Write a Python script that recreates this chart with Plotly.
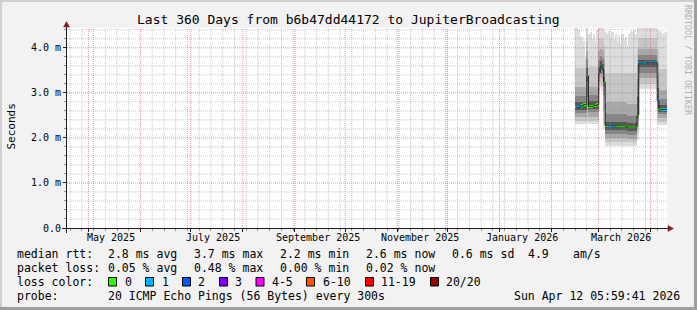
import plotly.graph_objects as go
import pandas as pd

# ---------------- data (values in milliseconds) ----------------
FIRST_STEP = "2026-02-15 12:00"   # centre of the first 1-day consolidated step

median_ms = [2.68, 2.68, 2.68, 2.70, 2.72, 2.74, 2.74, 3.38, 2.70, 2.70,
             2.70, 2.71, 2.72, 2.74, 3.44, 3.60, 3.55, 3.24, 2.27, 2.27,
             2.27, 2.27, 2.27, 2.27, 2.27, 2.27, 2.27, 2.27, 2.27, 2.27,
             2.26, 2.24, 2.24, 2.24, 2.24, 2.24, 2.24, 2.51, 3.66, 3.66,
             3.66, 3.66, 3.66, 3.68, 3.68, 3.68, 3.68, 3.68, 3.68, 2.83,
             2.64, 2.64, 2.63, 2.63, 2.63]

loss_pings = [1, 1, 1, 1, 0, 0, 0, 0, 0, 0,
              0, 0, 0, 0, 1, 1, 1, 0, 0, 0,
              1, 1, 1, 1, 1, 0, 0, 0, 0, 0,
              0, 0, 0, 0, 0, 0, 0, 0, 1, 1,
              1, 1, 1, 1, 1, 1, 1, 1, 1, 1,
              0, 0, 1, 1, 1]

# smoke: consolidated sorted-ping levels, outermost (1) to innermost (5)
smoke_lo1 = [2.31, 2.31, 2.31, 2.31, 2.31, 2.31, 2.31, 2.35, 2.31, 2.31,
             2.31, 2.31, 2.31, 2.31, 2.60, 3.10, 3.05, 2.20, 1.83, 1.83,
             1.83, 1.83, 1.83, 1.83, 1.83, 1.83, 1.83, 1.83, 1.83, 1.83,
             1.83, 1.82, 1.82, 1.82, 1.82, 1.82, 1.82, 1.95, 3.08, 3.08,
             3.08, 3.08, 3.08, 3.08, 3.08, 3.08, 3.08, 3.08, 3.08, 2.30,
             2.29, 2.29, 2.29, 2.29, 2.29]
smoke_lo2 = [2.37, 2.37, 2.37, 2.37, 2.37, 2.37, 2.37, 2.45, 2.37, 2.37,
             2.37, 2.37, 2.37, 2.37, 2.75, 3.20, 3.15, 2.30, 1.91, 1.91,
             1.91, 1.91, 1.91, 1.91, 1.91, 1.91, 1.91, 1.91, 1.91, 1.91,
             1.91, 1.90, 1.90, 1.90, 1.90, 1.90, 1.90, 2.10, 3.20, 3.20,
             3.20, 3.20, 3.20, 3.20, 3.20, 3.20, 3.20, 3.20, 3.20, 2.40,
             2.36, 2.36, 2.36, 2.36, 2.36]
smoke_lo3 = [2.46, 2.46, 2.46, 2.46, 2.46, 2.46, 2.46, 2.62, 2.46, 2.46,
             2.46, 2.46, 2.46, 2.46, 3.05, 3.35, 3.30, 2.60, 2.00, 2.00,
             2.00, 2.00, 2.00, 2.00, 2.00, 2.00, 2.00, 2.00, 2.00, 2.00,
             2.00, 1.98, 1.98, 1.98, 1.98, 1.98, 1.98, 2.30, 3.32, 3.32,
             3.32, 3.32, 3.32, 3.32, 3.32, 3.32, 3.32, 3.32, 3.32, 2.55,
             2.44, 2.44, 2.44, 2.44, 2.44]
smoke_lo4 = [2.56, 2.56, 2.56, 2.56, 2.56, 2.56, 2.56, 2.90, 2.57, 2.57,
             2.57, 2.57, 2.57, 2.57, 3.25, 3.45, 3.42, 2.95, 2.09, 2.09,
             2.09, 2.09, 2.09, 2.09, 2.09, 2.09, 2.09, 2.09, 2.09, 2.09,
             2.09, 2.07, 2.07, 2.07, 2.07, 2.07, 2.07, 2.42, 3.44, 3.44,
             3.44, 3.44, 3.44, 3.44, 3.44, 3.44, 3.44, 3.44, 3.44, 2.68,
             2.52, 2.52, 2.52, 2.52, 2.52]
smoke_lo5 = [2.63, 2.63, 2.63, 2.63, 2.63, 2.63, 2.63, 3.25, 2.65, 2.65,
             2.65, 2.65, 2.65, 2.65, 3.38, 3.54, 3.50, 3.15, 2.18, 2.18,
             2.18, 2.18, 2.18, 2.18, 2.18, 2.18, 2.18, 2.18, 2.18, 2.18,
             2.18, 2.16, 2.16, 2.16, 2.16, 2.16, 2.16, 2.48, 3.57, 3.57,
             3.57, 3.57, 3.57, 3.57, 3.57, 3.57, 3.57, 3.57, 3.57, 2.77,
             2.58, 2.58, 2.58, 2.58, 2.58]
smoke_hi5 = [2.80, 2.80, 2.80, 2.80, 2.80, 2.80, 2.80, 3.55, 2.82, 2.82,
             2.82, 2.82, 2.82, 2.82, 3.55, 3.70, 3.65, 3.35, 2.36, 2.36,
             2.36, 2.36, 2.36, 2.36, 2.36, 2.36, 2.36, 2.36, 2.36, 2.36,
             2.36, 2.33, 2.33, 2.33, 2.33, 2.33, 2.33, 2.90, 3.74, 3.74,
             3.74, 3.74, 3.74, 3.74, 3.74, 3.74, 3.74, 3.74, 3.74, 3.10,
             2.72, 2.72, 2.72, 2.72, 2.72]
smoke_hi4 = [2.93, 2.93, 2.93, 2.93, 2.93, 2.93, 2.93, 3.75, 2.95, 2.95,
             2.95, 2.95, 2.95, 2.95, 3.72, 3.82, 3.78, 3.50, 2.52, 2.52,
             2.52, 2.52, 2.52, 2.52, 2.52, 2.52, 2.52, 2.52, 2.52, 2.52,
             2.52, 2.48, 2.48, 2.48, 2.48, 2.48, 2.48, 3.30, 3.83, 3.83,
             3.83, 3.83, 3.83, 3.83, 3.83, 3.83, 3.83, 3.83, 3.83, 3.45,
             2.86, 2.86, 2.86, 2.86, 2.86]
smoke_hi3 = [3.12, 3.12, 3.12, 3.12, 3.12, 3.12, 3.12, 3.92, 3.14, 3.14,
             3.14, 3.14, 3.14, 3.14, 3.92, 3.97, 3.95, 3.72, 2.80, 2.80,
             2.80, 2.80, 2.80, 2.80, 2.80, 2.80, 2.80, 2.80, 2.80, 2.80,
             2.80, 2.76, 2.76, 2.76, 2.76, 2.76, 2.76, 3.62, 3.98, 3.98,
             3.98, 3.98, 3.98, 3.98, 3.98, 3.98, 3.98, 3.98, 3.98, 3.66,
             3.06, 3.06, 3.06, 3.06, 3.06]
smoke_hi2 = [3.55, 3.55, 3.55, 3.55, 3.55, 3.55, 3.55, 4.15, 3.58, 3.58,
             3.58, 3.58, 3.58, 3.58, 4.20, 4.20, 4.20, 4.05, 3.45, 3.45,
             3.45, 3.45, 3.45, 3.45, 3.45, 3.45, 3.45, 3.45, 3.45, 3.45,
             3.45, 3.45, 3.45, 3.45, 3.45, 3.45, 3.45, 3.95, 4.22, 4.22,
             4.22, 4.22, 4.22, 4.22, 4.22, 4.22, 4.22, 4.22, 4.22, 3.98,
             3.52, 3.52, 3.52, 3.52, 3.52]
smoke_hi1 = [4.45, 4.45, 4.40, 4.26, 4.23, 4.15, 3.80, 4.45, 4.30, 4.35,
             4.20, 4.30, 4.15, 4.40, 4.46, 4.46, 4.46, 4.40, 4.35, 4.30,
             4.38, 4.25, 4.35, 4.20, 4.30, 4.15, 4.28, 4.10, 4.30, 4.20,
             4.25, 4.05, 4.30, 4.38, 4.35, 4.40, 4.30, 4.46, 4.46, 4.46,
             4.46, 4.46, 4.46, 4.46, 4.46, 4.46, 4.46, 4.46, 4.46, 4.40,
             4.35, 4.38, 4.30, 4.32, 4.35]

# loss colour legend: (upper bound of lost pings, label, colour)
loss_levels = [0, 1, 2, 3, 5, 10, 19, 20]
loss_labels = ["0", "1", "2", "3", "4-5", "6-10", "11-19", "20/20"]
loss_colors = ["#26ff00", "#00b8ff", "#0059ff", "#7e00ff", "#ff00ff",
               "#ff5500", "#ff0000", "#a10000"]

y_tick_vals = [0, 1, 2, 3, 4]
y_tick_text = ["0.0", "1.0 m", "2.0 m", "3.0 m", "4.0 m"]

x_label_dates = ["2025-05-14 12:00", "2025-07-14 12:00", "2025-09-14 12:00",
                 "2025-11-14 12:00", "2026-01-14 12:00", "2026-03-14 12:00"]
x_label_text = ["May 2025", "July 2025", "September 2025",
                "November 2025", "January 2026", "March 2026"]

X_RANGE = ["2025-04-18 04:19", "2026-04-10 19:55"]
Y_RANGE = [0, 4.44]

title_text = "Last 360 Days from b6b47dd44172 to JupiterBroadcasting"
stats_rows = [
    ("median rtt:", ["2.8 ms avg", "3.7 ms max", "2.2 ms min", "2.6 ms now",
                     "0.6 ms sd", "4.9", "am/s"]),
    ("packet loss:", ["0.05 % avg", "0.48 % max", "0.00 % min", "0.02 % now"]),
]
probe_text = "20 ICMP Echo Pings (56 Bytes) every 300s"
stamp_text = "Sun Apr 12 05:59:41 2026"

# ---------------- layout geometry / styles ----------------
W, H = 697, 310
PL, PT, PW, PH = 67, 28, 600, 200
MONO = "DejaVu Sans Mono"
SMOKE_GRAYS = ["#dddddd", "#c6c6c6", "#a8a8a8", "#858585", "#555555"]
MINOR_GRID = "rgba(143,143,143,0.5)"
MAJOR_GRID = "rgba(222,79,79,0.6)"
BG = "#f2f2f2"


def px(x):
    return (x - PL) / PW


def py(y):
    return (PT + PH - y) / PH


dates = pd.date_range(FIRST_STEP, periods=len(median_ms), freq="D")
DAY_MS = 86400000

fig = go.Figure()

los = [smoke_lo1, smoke_lo2, smoke_lo3, smoke_lo4, smoke_lo5]
his = [smoke_hi1, smoke_hi2, smoke_hi3, smoke_hi4, smoke_hi5]
for lo, hi, col in zip(los, his, SMOKE_GRAYS):
    fig.add_trace(go.Bar(
        x=dates, base=lo, y=[h - l for l, h in zip(lo, hi)],
        width=DAY_MS, marker=dict(color=col, line=dict(width=0)),
        hoverinfo="skip"))

fig.add_trace(go.Scatter(
    x=dates, y=median_ms, mode="lines",
    line=dict(color="#202020", width=1, shape="hvh"), hoverinfo="skip"))


def loss_color(v):
    for lvl, c in zip(loss_levels, loss_colors):
        if v <= lvl:
            return c
    return loss_colors[-1]


MARK_H = 2.4 * (Y_RANGE[1] - Y_RANGE[0]) / PH
fig.add_trace(go.Bar(
    x=dates, base=[m - MARK_H / 2 for m in median_ms],
    y=[MARK_H] * len(median_ms), width=DAY_MS,
    marker=dict(color=[loss_color(v) for v in loss_pings], line=dict(width=0)),
    hoverinfo="skip"))

shapes = []
# vertical grid: weekly (Sundays) minor, monthly major
x0, x1 = pd.Timestamp(X_RANGE[0]), pd.Timestamp(X_RANGE[1])
months = pd.date_range(x0.normalize() + pd.offsets.MonthBegin(1), x1, freq="MS")
weeks = pd.date_range("2025-04-20", x1, freq="7D")
for wk in weeks:
    if wk in months or wk < x0:
        continue
    shapes.append(dict(type="line", xref="x", yref="paper", x0=wk, x1=wk,
                       y0=0, y1=1, layer="above",
                       line=dict(color=MINOR_GRID, width=1, dash="1px,1px")))
for m in months:
    shapes.append(dict(type="line", xref="x", yref="paper", x0=m, x1=m,
                       y0=0, y1=1, layer="above",
                       line=dict(color=MAJOR_GRID, width=1, dash="1px,1px")))
# horizontal grid
for i in range(1, 23):
    v = round(i * 0.2, 1)
    if v > Y_RANGE[1]:
        break
    major = abs(v - round(v)) < 1e-9
    shapes.append(dict(type="line", xref="paper", yref="y", x0=0, x1=1,
                       y0=v, y1=v, layer="above",
                       line=dict(color=MAJOR_GRID if major else MINOR_GRID,
                                 width=1, dash="1px,1px")))

# axis lines with arrows
AX = "#1f1f1f"
ARROW = "#801f1f"
shapes.append(dict(type="line", xref="paper", yref="paper",
                   x0=px(62), x1=px(669), y0=py(228.5), y1=py(228.5),
                   line=dict(color=AX, width=1), layer="above"))
shapes.append(dict(type="line", xref="paper", yref="paper",
                   x0=px(66.5), x1=px(66.5), y0=py(233), y1=py(25),
                   line=dict(color=AX, width=1), layer="above"))
shapes.append(dict(type="path", xref="paper", yref="paper", layer="above",
                   path=f"M{px(668)},{py(225.5)} L{px(673.5)},{py(228.5)} "
                        f"L{px(668)},{py(231.5)} Z",
                   fillcolor=ARROW, line=dict(color=ARROW, width=0.5)))
shapes.append(dict(type="path", xref="paper", yref="paper", layer="above",
                   path=f"M{px(63.5)},{py(27)} L{px(66.5)},{py(21.5)} "
                        f"L{px(69.5)},{py(27)} Z",
                   fillcolor=ARROW, line=dict(color=ARROW, width=0.5)))

# 3-D frame round the canvas
def rect(xa, ya, xb, yb, col):
    return dict(type="rect", xref="paper", yref="paper", layer="above",
                x0=px(xa), x1=px(xb), y0=py(ya), y1=py(yb),
                fillcolor=col, line=dict(width=0))


shapes.append(rect(0, 0, W, 2, "#cfcfcf"))
shapes.append(rect(0, 0, 2, H, "#cfcfcf"))
shapes.append(rect(0, H - 3, W, H, "#9e9e9e"))
shapes.append(rect(W - 3, 0, W, H, "#9e9e9e"))

# legend colour boxes
box_x = [108.5, 145.5, 182.5, 219.5, 256, 306.5, 365.5, 430.5]
lab_x = [124, 160.7, 196.7, 234, 270.7, 321.7, 380, 445]
for bx, col in zip(box_x, loss_colors):
    shapes.append(dict(type="rect", xref="paper", yref="paper", layer="above",
                       x0=px(bx), x1=px(bx + 8), y0=py(277.5), y1=py(286),
                       fillcolor=col, line=dict(color="#000000", width=1)))

ann = []


def text(x, y, s, size=11.5, anchor="left", color="#000000", angle=0):
    ann.append(dict(x=px(x), y=py(y), xref="paper", yref="paper", text=s,
                    showarrow=False, xanchor=anchor, yanchor="middle",
                    textangle=angle, borderpad=0,
                    font=dict(family=MONO, size=size, color=color)))


text(348, 19.3, title_text, size=13, anchor="center")
text(10.5, 127, "Seconds", size=11, anchor="center", angle=-90)
text(688, 60, "RRDTOOL / TOBI OETIKER", size=8.3, anchor="center",
     color="#b0b0b0", angle=90)

for d, s in zip(x_label_dates, x_label_text):
    ann.append(dict(x=d, y=py(237.5), xref="x", yref="paper", text=s,
                    showarrow=False, xanchor="center", yanchor="middle",
                    borderpad=0, font=dict(family=MONO, size=10, color="#000")))

col_x = [107.3, 193.3, 279.3, 365, 451, 526.7, 572.3]
row_y = [254, 268, 282, 296]
for (head, items), yy in zip(stats_rows, row_y):
    text(16, yy, head)
    for xx, s in zip(col_x, items):
        text(xx, yy, s)
text(16, row_y[2], "loss color:")
for xx, s in zip(lab_x, loss_labels):
    text(xx, row_y[2], s)
text(16, row_y[3], "probe:")
text(107.3, row_y[3], probe_text)
text(513.3, row_y[3], stamp_text)

fig.update_layout(
    width=W, height=H, margin=dict(l=PL, r=W - PL - PW, t=PT, b=H - PT - PH),
    paper_bgcolor=BG, plot_bgcolor="#ffffff", showlegend=False,
    barmode="overlay", bargap=0, bargroupgap=0,
    shapes=shapes, annotations=ann,
    xaxis=dict(type="date", range=X_RANGE, showgrid=False, zeroline=False,
               showline=False, showticklabels=False,
               tickmode="linear", tick0="2025-05-01", dtick="M1",
               ticks="outside", ticklen=3, tickcolor=AX, tickwidth=1,
               minor=dict(tickmode="linear", tick0="2025-04-20",
                          dtick=7 * DAY_MS, ticks="outside", ticklen=2,
                          tickcolor="#8f8f8f", showgrid=False),
               fixedrange=True),
    yaxis=dict(range=Y_RANGE, showgrid=False, zeroline=False, showline=False,
               tickmode="array", tickvals=y_tick_vals, ticktext=y_tick_text,
               ticks="outside", ticklen=3, tickcolor=AX, tickwidth=1,
               tickfont=dict(family=MONO, size=10, color="#000000"),
               minor=dict(tickmode="linear", tick0=0, dtick=0.2,
                          ticks="outside", ticklen=2, tickcolor="#8f8f8f",
                          showgrid=False),
               fixedrange=True),
)

fig.write_html("out.html")
